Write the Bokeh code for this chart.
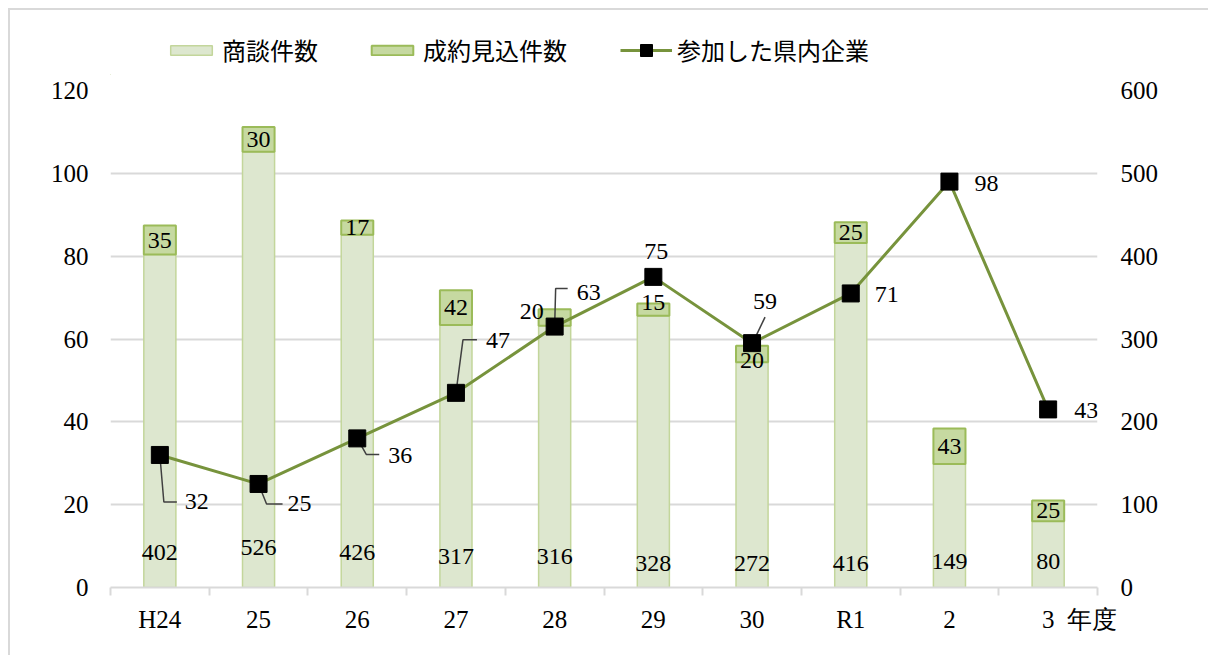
from bokeh.plotting import figure
from bokeh.layouts import column
from bokeh.models import (Range1d, LinearAxis, FixedTicker, Legend, LegendItem,
                          ColumnDataSource)
from bokeh.core.properties import value
from bokeh.embed import file_html
from bokeh.resources import INLINE

# ---------------- data ----------------
categories = ["H24", "25", "26", "27", "28", "29", "30", "R1", "2", "3"]
shodan = [402, 526, 426, 317, 316, 328, 272, 416, 149, 80]      # 商談件数 (right axis)
seiyaku = [35, 30, 17, 42, 20, 15, 20, 25, 43, 25]             # 成約見込件数 (right axis)
sanka = [32, 25, 36, 47, 63, 75, 59, 71, 98, 43]               # 参加した県内企業 (left axis)
left_ticks = [0, 20, 40, 60, 80, 100, 120]
right_ticks = [0, 100, 200, 300, 400, 500, 600]
axis_unit = "年度"
legend_labels = ["商談件数", "成約見込件数", "参加した県内企業"]

# ---------------- styles / layout ----------------
W = 1198
LEG_H = 65
H = 580
ML, MR, MT, MB = 100, 111, 15, 68
FW = W - ML - MR
FH = H - MT - MB
NUM_FONT = value("Liberation Serif")
C_SHODAN, C_SHODAN_LINE = "#dde7cf", "#c3d69b"
C_SEIYAKU, C_SEIYAKU_LINE = "#c6d9a1", "#9bbb59"
C_LINE = "#77933c"
C_GRID = "#d9d9d9"
LBL_SIZE = "24px"
AX_SIZE = "25px"

# pixel tweaks for labels (style only)
shodan_lift = [35, 40, 35, 31, 31, 24, 24, 24, 26, 26]
seiyaku_shift = [(0, 0), (0, 0), (0, 0), (0, 0), (-23, -6), (0, -7), (0, 7), (0, 0), (0, 0), (0, 0)]
line_label_off = [(37, 47), (41, 20), (43, 17), (42, -52), (34, -34),
                  (3, -25), (13, -42), (36, 1), (37, 2), (38, 1)]
leaders = {
    0: [(0, 0), (4, 47), (17, 47)],
    1: [(0, 0), (8, 20), (24, 20)],
    2: [(0, 0), (9, 16), (22, 16)],
    3: [(0, 0), (7, -53), (21, -53)],
    4: [(0, 0), (1, -38), (13, -38)],
    6: [(2, -3), (13, -26)],
}
unit_dx = 43

n = len(categories)
xs = list(range(n))
right_max = right_ticks[-1]
left_max = left_ticks[-1]
px_x = FW / n
px_y = FH / left_max

p = figure(width=W, height=H, output_backend="svg", toolbar_location=None,
           x_range=Range1d(-0.5, n - 0.5), y_range=Range1d(0, left_max),
           min_border_left=ML, min_border_right=MR, min_border_top=MT, min_border_bottom=MB)
p.outline_line_color = None
p.background_fill_color = "white"
p.border_fill_color = "white"
p.extra_y_ranges = {"right": Range1d(0, right_max)}

# grid
p.xgrid.visible = False
p.ygrid.ticker = FixedTicker(ticks=left_ticks)
p.ygrid.grid_line_color = C_GRID
p.ygrid.grid_line_width = 2

# bars (right axis)
top1 = shodan
top2 = [a + b for a, b in zip(shodan, seiyaku)]
src = ColumnDataSource(dict(x=xs, top1=top1, top2=top2))
bar1_style = dict(fill_color=C_SHODAN, line_color=C_SHODAN_LINE, line_width=1.5)
bar2_style = dict(fill_color=C_SEIYAKU, line_color=C_SEIYAKU_LINE, line_width=2)
p.vbar(x="x", bottom=0, top="top1", width=0.325, source=src, y_range_name="right", **bar1_style)
p.vbar(x="x", bottom="top1", top="top2", width=0.325, source=src, y_range_name="right", **bar2_style)

# line (left axis)
line_style = dict(line_color=C_LINE, line_width=3)
mark_style = dict(marker="square", size=17, fill_color="black", line_color="black")
p.line(xs, sanka, **line_style)

# leader lines
lx, ly = [], []
for i, pts in leaders.items():
    lx.append([xs[i] + dx / px_x for dx, dy in pts])
    ly.append([sanka[i] - dy / px_y for dx, dy in pts])
p.multi_line(lx, ly, line_color="#404040", line_width=1.5)

p.scatter(xs, sanka, **mark_style)

# labels: shodan (inside base)
p.text(x=xs, y=[0] * n, text=[str(v) for v in shodan], y_range_name="right",
       y_offset=[-l for l in shodan_lift],
       text_font=NUM_FONT, text_font_size=LBL_SIZE, text_align="center", text_baseline="middle",
       text_color="black")
# labels: seiyaku (center of segment)
p.text(x=xs, y=[a + b / 2 for a, b in zip(shodan, seiyaku)], text=[str(v) for v in seiyaku],
       y_range_name="right",
       x_offset=[s[0] for s in seiyaku_shift], y_offset=[s[1] for s in seiyaku_shift],
       text_font=NUM_FONT, text_font_size=LBL_SIZE, text_align="center", text_baseline="middle",
       text_color="black")
# labels: sanka
p.text(x=xs, y=sanka, text=[str(v) for v in sanka],
       x_offset=[o[0] for o in line_label_off], y_offset=[o[1] for o in line_label_off],
       text_font=NUM_FONT, text_font_size=LBL_SIZE, text_align="center", text_baseline="middle",
       text_color="black")

# axes
unit_x = round(xs[-1] + unit_dx / px_x, 2)
xa = p.xaxis[0]
xa.ticker = FixedTicker(ticks=xs + [unit_x], minor_ticks=[i - 0.5 for i in range(n + 1)])
overrides = {i: c for i, c in enumerate(categories)}
overrides[unit_x] = axis_unit
xa.major_label_overrides = overrides
xa.axis_line_color = C_GRID
xa.axis_line_width = 2
xa.major_tick_line_color = None
xa.major_tick_out = 0
xa.major_tick_in = 0
xa.minor_tick_line_color = C_GRID
xa.minor_tick_line_width = 2
xa.minor_tick_out = 8
xa.minor_tick_in = 0
xa.major_label_standoff = 10
xa.major_label_text_font = "Liberation Serif"
xa.major_label_text_font_size = AX_SIZE
xa.major_label_text_color = "black"

ya = p.yaxis[0]
ya.ticker = FixedTicker(ticks=left_ticks)
ya.axis_line_color = None
ya.major_tick_line_color = None
ya.major_tick_out = 0
ya.major_tick_in = 0
ya.minor_tick_line_color = None
ya.major_label_standoff = 22
ya.major_label_text_font = "Liberation Serif"
ya.major_label_text_font_size = AX_SIZE
ya.major_label_text_color = "black"

ra = LinearAxis(y_range_name="right", ticker=FixedTicker(ticks=right_ticks))
ra.axis_line_color = None
ra.major_tick_line_color = None
ra.major_tick_out = 0
ra.major_tick_in = 0
ra.minor_tick_line_color = None
ra.major_label_standoff = 23
ra.major_label_text_font = "Liberation Serif"
ra.major_label_text_font_size = AX_SIZE
ra.major_label_text_color = "black"
p.add_layout(ra, "right")

# ---------------- legend strip (separate figure above the chart) ----------------
lg = figure(width=W, height=LEG_H, output_backend="svg", toolbar_location=None,
            x_range=Range1d(0, 1), y_range=Range1d(0, 1),
            min_border_left=0, min_border_right=0, min_border_top=0, min_border_bottom=0)
lg.axis.visible = False
lg.grid.visible = False
lg.outline_line_color = None
lg.border_fill_color = "white"
# legend proxies: one point each, placed well outside the visible range
proxy = ColumnDataSource(dict(x=[-10], y=[-10], top=[-9]))
r1 = lg.vbar(x="x", bottom="y", top="top", width=0.3, source=proxy, **bar1_style)
r2 = lg.vbar(x="x", bottom="y", top="top", width=0.3, source=proxy, **bar2_style)
r3 = lg.line(x="x", y="y", source=proxy, **line_style)
r4 = lg.scatter(x="x", y="y", source=proxy, **mark_style)


def style_legend(lgd, gh):
    lgd.background_fill_alpha = 0
    lgd.border_line_color = None
    lgd.padding = 0
    lgd.margin = 0
    lgd.spacing = 48
    lgd.label_standoff = 5
    lgd.glyph_width = 52
    lgd.glyph_height = gh
    lgd.label_height = 30
    lgd.label_text_font = "Noto Sans CJK JP"
    lgd.label_text_font_size = "24px"
    lgd.label_text_color = "black"


legend_a = Legend(items=[LegendItem(label=legend_labels[0], renderers=[r1]),
                         LegendItem(label=legend_labels[1], renderers=[r2])],
                  orientation="horizontal", location=(55, 8))
style_legend(legend_a, 12)
legend_b = Legend(items=[LegendItem(label=legend_labels[2], renderers=[r3, r4])],
                  orientation="horizontal", location=(510, 8))
style_legend(legend_b, 30)
lg.add_layout(legend_a, "center")
lg.add_layout(legend_b, "center")

page = column(lg, p, spacing=0,
              styles={"border-top": "2px solid #d9d9d9", "border-left": "2px solid #d9d9d9",
                      "margin-left": "8px", "margin-top": "8px"})

open("out.html", "w").write(file_html(page, INLINE))
